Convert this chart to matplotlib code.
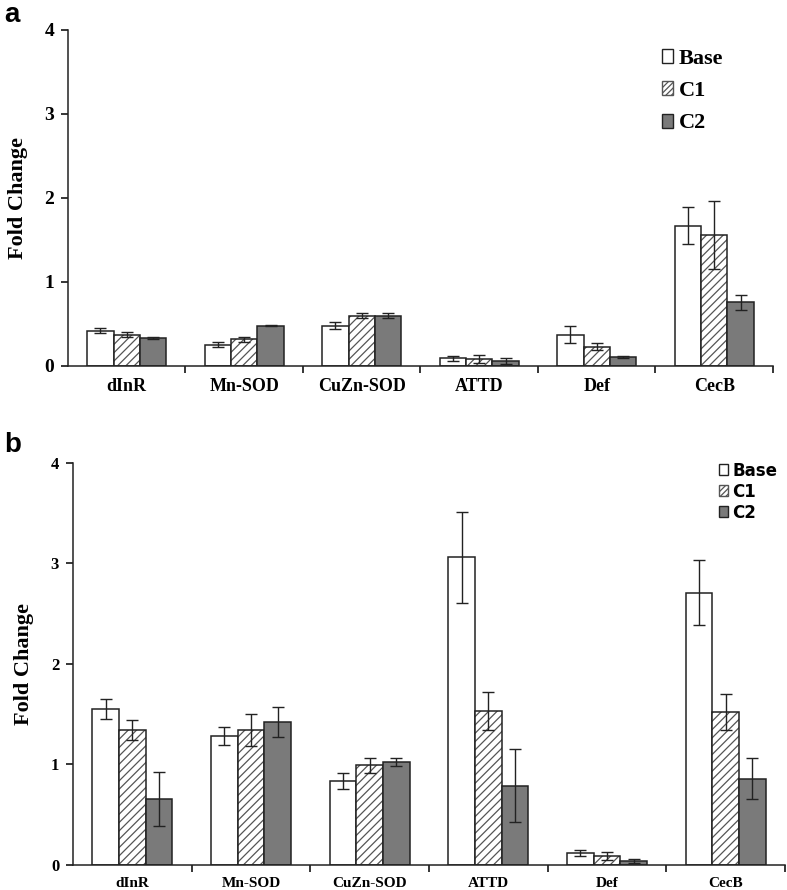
import matplotlib
matplotlib.use('Agg')
import matplotlib.pyplot as plt
from matplotlib.patches import Patch
import numpy as np

genes = ['dInR', 'Mn-SOD', 'CuZn-SOD', 'ATTD', 'Def', 'CecB']

# panel a
a_base = [0.42, 0.25, 0.48, 0.09, 0.37, 1.67]
a_base_err = [0.03, 0.03, 0.04, 0.03, 0.10, 0.22]
a_c1 = [0.37, 0.32, 0.60, 0.08, 0.23, 1.56]
a_c1_err = [0.03, 0.03, 0.03, 0.05, 0.04, 0.40]
a_c2 = [0.33, 0.48, 0.60, 0.06, 0.11, 0.76]
a_c2_err = [0.01, 0.01, 0.03, 0.04, 0.01, 0.09]

# panel b
b_base = [1.55, 1.28, 0.84, 3.06, 0.12, 2.71]
b_base_err = [0.10, 0.09, 0.08, 0.45, 0.03, 0.32]
b_c1 = [1.34, 1.34, 0.99, 1.53, 0.09, 1.52]
b_c1_err = [0.10, 0.16, 0.07, 0.19, 0.04, 0.18]
b_c2 = [0.66, 1.42, 1.02, 0.79, 0.04, 0.86]
b_c2_err = [0.27, 0.15, 0.04, 0.36, 0.02, 0.20]

SERIF = 'Liberation Serif'
GRAY = '#7a7a7a'
HATCH_GRAY = '#555555'
plt.rcParams['hatch.linewidth'] = 0.9


def draw_panel(ax, base, base_err, c1, c1_err, c2, c2_err, xtick_size, ytick_size,
               legend_font, legend_size, legend_pos, spacing, hlen, hhgt):
    x = np.arange(len(genes))
    w = 0.225
    ekw = dict(ecolor='#222222', elinewidth=1.0, capsize=4, capthick=1.0)

    ax.bar(x - w, base, w, color='white', edgecolor='#222222', linewidth=1.1)
    ax.errorbar(x - w, base, yerr=base_err, fmt='none', **ekw)

    # hatch drawn in gray, outline drawn over it in black
    ax.bar(x, c1, w, color='white', edgecolor=HATCH_GRAY, hatch='////', linewidth=0)
    ax.bar(x, c1, w, color='none', edgecolor='#222222', linewidth=1.1)
    ax.errorbar(x, c1, yerr=c1_err, fmt='none', **ekw)

    ax.bar(x + w, c2, w, color=GRAY, edgecolor='#222222', linewidth=1.1)
    ax.errorbar(x + w, c2, yerr=c2_err, fmt='none', **ekw)

    ax.set_xlim(-0.5, len(genes) - 0.5)
    ax.set_ylim(0, 4)
    ax.set_yticks([0, 1, 2, 3, 4])
    ax.set_xticks(x)
    ax.set_xticklabels(genes, fontfamily=SERIF, fontweight='bold', fontsize=xtick_size)
    ax.set_xticks(np.arange(0.5, len(genes)), minor=True)
    ax.tick_params(axis='x', which='major', length=0, pad=9)
    ax.tick_params(axis='x', which='minor', length=5, width=1.1, direction='out')
    ax.tick_params(axis='y', length=5, width=1.1, direction='out', pad=5)
    for lab in ax.get_yticklabels():
        lab.set_fontfamily(SERIF)
        lab.set_fontweight('bold')
        lab.set_fontsize(ytick_size)
    ax.set_ylabel('Fold Change', fontfamily=SERIF, fontweight='bold', fontsize=16, labelpad=12)

    for side in ['top', 'right']:
        ax.spines[side].set_visible(False)
    for side in ['left', 'bottom']:
        ax.spines[side].set_linewidth(1.1)
        ax.spines[side].set_color('#222222')

    handles = [
        Patch(facecolor='white', edgecolor='#222222', linewidth=1.0),
        Patch(facecolor='white', edgecolor=HATCH_GRAY, hatch='//////', linewidth=1.0),
        Patch(facecolor=GRAY, edgecolor='#222222', linewidth=1.0),
    ]
    ax.legend(handles, ['Base', 'C1', 'C2'], loc='upper left', bbox_to_anchor=legend_pos,
              frameon=False, handlelength=hlen, handleheight=hhgt, handletextpad=0.25,
              labelspacing=spacing, borderaxespad=0,
              prop={'family': legend_font, 'weight': 'bold', 'size': legend_size})


fig = plt.figure(figsize=(7.87, 8.9), dpi=100)

ax_a = fig.add_axes([0.0864, 0.5888, 0.8958, 0.3775])
draw_panel(ax_a, a_base, a_base_err, a_c1, a_c1_err, a_c2, a_c2_err,
           13, 14, SERIF, 16, (0.83, 0.97), 0.55, 0.5, 0.6)

ax_b = fig.add_axes([0.0928, 0.0281, 0.9047, 0.4517])
draw_panel(ax_b, b_base, b_base_err, b_c1, b_c1_err, b_c2, b_c2_err,
           11, 12, 'DejaVu Sans', 12, (0.898, 1.02), 0.18, 0.55, 0.6)

fig.text(0.006, 0.998, 'a', fontsize=20, fontweight='bold', fontfamily='Liberation Sans', va='top')
fig.text(0.006, 0.515, 'b', fontsize=20, fontweight='bold', fontfamily='Liberation Sans', va='top')

fig.savefig('out.png', dpi=100)
